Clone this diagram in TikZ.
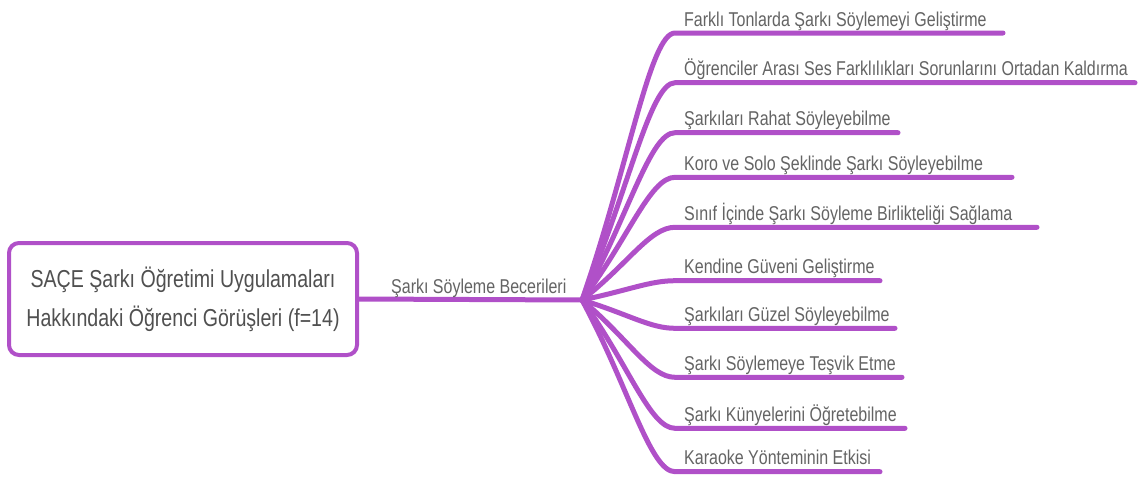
\documentclass[tikz,border=0pt]{standalone}
\usepackage{fontspec}
\setmainfont{Liberation Sans}[FakeStretch=0.8]
\usetikzlibrary{calc}
\definecolor{mmpurple}{RGB}{176,80,200}
\definecolor{mmtext}{RGB}{100,100,100}
\definecolor{roottext}{RGB}{80,80,80}
\begin{document}
\begin{tikzpicture}[x=1pt,y=-1pt,
  branch/.style={draw=mmpurple, line width=5pt, line cap=round, line join=round},
  lbl/.style={anchor=base west, inner sep=0pt, text=mmtext, font=\fontsize{20}{24}\selectfont},
  rootbox/.style={draw=mmpurple, line width=4pt, rounded corners=10pt, fill=white, align=center, text=roottext, font=\fontsize{24.5}{39}\selectfont}]
\useasboundingbox[fill=white] (0,0) rectangle (1138,477);
\coordinate (hub) at (582,300);
\foreach \i/\y/\ex/\t in {
  1/33/1003/{Farklı Tonlarda Şarkı Söylemeyi Geliştirme},
  2/82.7/1135/{Öğrenciler Arası Ses Farklılıkları Sorunlarını Ortadan Kaldırma},
  3/132.7/898/{Şarkıları Rahat Söyleyebilme},
  4/177.3/1012/{Koro ve Solo Şeklinde Şarkı Söyleyebilme},
  5/227.3/1037/{Sınıf İçinde Şarkı Söyleme Birlikteliği Sağlama},
  6/280.7/880/{Kendine Güveni Geliştirme},
  7/328.3/895/{Şarkıları Güzel Söyleyebilme},
  8/377.3/902/{Şarkı Söylemeye Teşvik Etme},
  9/428.3/905/{Şarkı Künyelerini Öğretebilme},
  10/471.7/880/{Karaoke Yönteminin Etkisi}}{
  \coordinate (s\i) at (675,\y);
  \coordinate (e\i) at (\ex,\y);
  \node[lbl] (b\i) at (684,\y-7) {\t};
  \draw[branch] (hub) .. controls ($(hub)!0.5!(s\i)$) and ($(s\i)+(-25,0)$) .. (s\i) -- (e\i);
}
\node[rootbox, minimum width=348pt, minimum height=112pt] (root) at (183,299) {SAÇE Şarkı Öğretimi Uygulamaları\\Hakkındaki Öğrenci Görüşleri (f=14)};
\draw[branch] (root.east) -- (hub);
\node[lbl] (hubl) at (391,293) {Şarkı Söyleme Becerileri};
\end{tikzpicture}
\end{document}
